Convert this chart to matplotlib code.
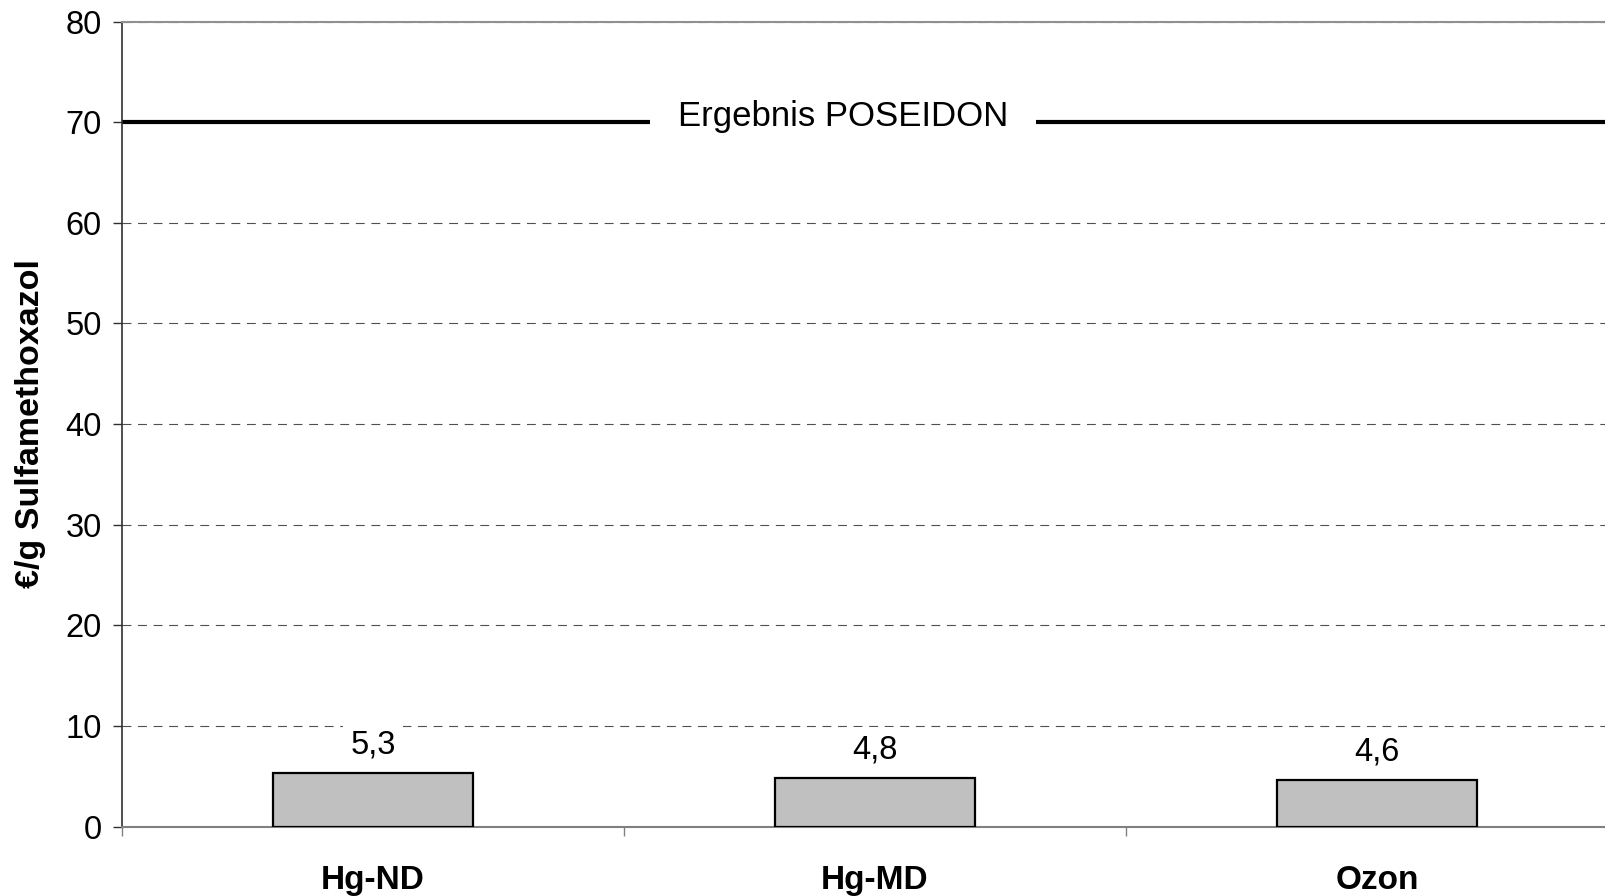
import numpy as np
import matplotlib
matplotlib.use("Agg")
import matplotlib.pyplot as plt
from matplotlib.ticker import FixedLocator, MultipleLocator

categories = ["Hg-ND", "Hg-MD", "Ozon"]
values = [5.3, 4.8, 4.6]
value_labels = ["5,3", "4,8", "4,6"]
ref_value = 70
ref_label = "Ergebnis POSEIDON"
y_label = "€/g Sulfamethoxazol"

plt.rcParams["font.family"] = ["Liberation Sans", "DejaVu Sans"]

fig = plt.figure(figsize=(16.06, 8.96), dpi=100)
ax = fig.add_axes([0.0759, 0.0775, 1 - 0.0759, 0.976 - 0.0775])

x = np.arange(len(categories))
bars = ax.bar(x, values, width=0.40, color="#C0C0C0", edgecolor="black",
              linewidth=1.6, zorder=3)

for xi, v, lab in zip(x, values, value_labels):
    ax.annotate(lab, xy=(xi, v), xytext=(0, 14.5), textcoords="offset points",
                ha="center", va="baseline", fontsize=23.5, zorder=4,
                bbox=dict(boxstyle="square", pad=0.22, fc="white", ec="none"))

# reference line with label
ax.axhline(ref_value, color="black", linewidth=3, zorder=2)
ax.annotate(ref_label, xy=(0.486, ref_value), xycoords=("axes fraction", "data"),
            xytext=(0, -3), textcoords="offset points",
            ha="center", va="baseline", fontsize=25, zorder=4,
            bbox=dict(boxstyle="square", pad=0.8, fc="white", ec="none"))

ax.set_xlim(-0.5, 2.456)
ax.set_ylim(0, 80)
ax.yaxis.set_major_locator(MultipleLocator(10))

ax.yaxis.grid(True, color="#505050", linestyle=(0, (8, 6)), linewidth=0.8)
ax.set_axisbelow(True)

ax.set_xticks(x)
ax.set_xticklabels(categories, fontsize=24, fontweight="bold")
ax.tick_params(axis="x", which="major", length=0, pad=28)
ax.xaxis.set_minor_locator(FixedLocator([-0.5, 0.5, 1.5]))
ax.tick_params(axis="x", which="minor", length=6.5, width=1, color="#808080",
               direction="out")
ax.tick_params(axis="y", length=6.5, width=1, color="#303030", pad=8,
               labelsize=23.5)

ax.set_ylabel(y_label, fontsize=24.5, fontweight="bold")
ax.yaxis.set_label_coords(-0.051, 0.5)

ax.spines["right"].set_visible(False)
ax.spines["left"].set_color("#303030")
ax.spines["left"].set_linewidth(1.2)
ax.spines["top"].set_color("#909090")
ax.spines["top"].set_linewidth(1.5)
ax.spines["bottom"].set_color("#808080")
ax.spines["bottom"].set_linewidth(1.5)

fig.savefig("out.png", dpi=100, facecolor="white")
